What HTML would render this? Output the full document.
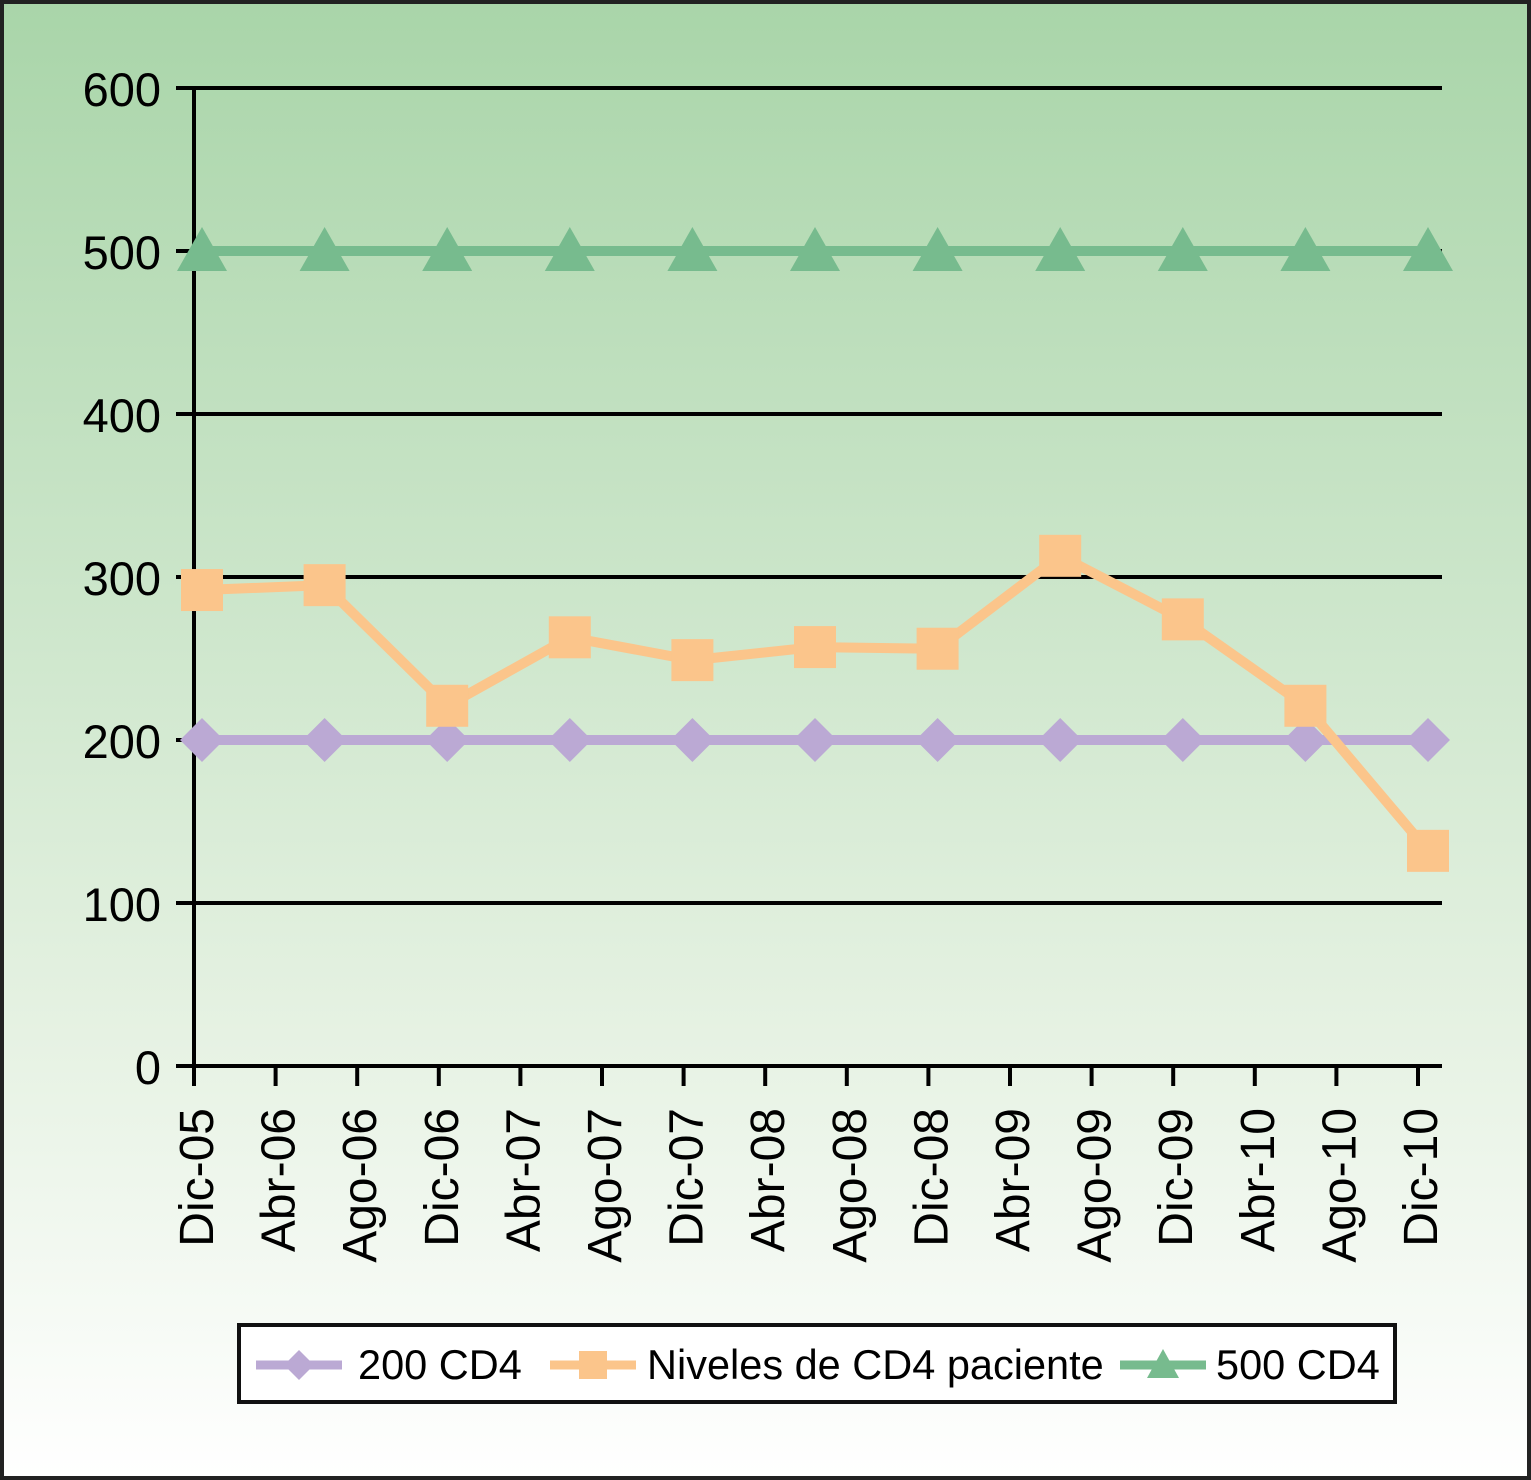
<!DOCTYPE html>
<html><head><meta charset="utf-8"><style>
html,body{margin:0;padding:0}
body{width:1531px;height:1480px;overflow:hidden}
svg{display:block;font-family:"Liberation Sans",Arial,sans-serif}
</style></head><body>
<svg id="c" width="1531" height="1480">
<defs><linearGradient id="bg" x1="0" y1="0" x2="0" y2="1">
<stop offset="0" stop-color="#a9d5a9"/><stop offset="0.7" stop-color="#e6f2e3"/><stop offset="1" stop-color="#ffffff"/></linearGradient></defs>
<rect x="2" y="2" width="1527" height="1476" fill="url(#bg)" stroke="#222" stroke-width="4"/>
<g id="grid"></g><g id="axes"></g><g id="series"></g>
<g>
<rect x="239" y="1325" width="1156" height="77" fill="#fff" stroke="#111" stroke-width="4"/>
<g>
<line x1="256" y1="1365" x2="342" y2="1365" stroke="#bba9d4" stroke-width="9"/>
<polygon points="299,1350 314,1365 299,1380 284,1365" fill="#bba9d4"/>
<text x="358" y="1379" font-size="41.5">200 CD4</text></g>
<g>
<line x1="550" y1="1365" x2="636" y2="1365" stroke="#fbc58b" stroke-width="9"/>
<rect x="579" y="1351" width="28" height="28" fill="#fbc58b"/>
<text x="647" y="1379" font-size="41.5">Niveles de CD4 paciente</text></g>
<g>
<line x1="1120" y1="1365" x2="1206" y2="1365" stroke="#77bb8e" stroke-width="9"/>
<polygon points="1163,1349 1179,1378 1147,1378" fill="#77bb8e"/>
<text x="1216" y="1379" font-size="41.5">500 CD4</text></g>
</g>
</svg>
<script>
const yTicks=[0,100,200,300,400,500,600];
const xLabels=["Dic-05","Abr-06","Ago-06","Dic-06","Abr-07","Ago-07","Dic-07","Abr-08","Ago-08","Dic-08","Abr-09","Ago-09","Dic-09","Abr-10","Ago-10","Dic-10"];
const pointMonths=[0,6,12,18,24,30,36,42,48,54,60];
const s200=[200,200,200,200,200,200,200,200,200,200,200];
const sPac=[292,295,221,263,249,257,256,313,274,221,132];
const s500=[500,500,500,500,500,500,500,500,500,500,500];
const NS="http://www.w3.org/2000/svg";
const y=v=>1066-v*(978/600);
const xt=i=>194+i*81.6;
const xm=m=>202+m*(1226/60);
function mk(t,a,p){const e=document.createElementNS(NS,t);for(const k in a)e.setAttribute(k,a[k]);p.appendChild(e);return e;}
const G=document.getElementById('grid'),A=document.getElementById('axes'),S=document.getElementById('series');
yTicks.forEach(v=>{
 if(v>0){const l=mk('line',{x1:194,x2:1442,y1:y(v),y2:y(v),stroke:'#000','stroke-width':4},G);
 
 }
 const t=mk('line',{x1:176,x2:194,y1:y(v),y2:y(v),stroke:'#000','stroke-width':4},A);
 
 
 const tx=mk('text',{x:161,y:y(v)+18,'text-anchor':'end','font-size':47},A);tx.textContent=v;
 
 
});
const ya=mk('line',{x1:194,x2:194,y1:86,y2:1068,stroke:'#000','stroke-width':4},A);


const xa=mk('line',{x1:176,x2:1442,y1:1066,y2:1066,stroke:'#000','stroke-width':4},A);


xLabels.forEach((lab,i)=>{
 const t=mk('line',{x1:xt(i),x2:xt(i),y1:1066,y2:1086,stroke:'#000','stroke-width':4},A);
 
 
 const tx=mk('text',{transform:`translate(${xt(i)+19},1108) rotate(-90)`,'text-anchor':'end','font-size':48},A);tx.textContent=lab;
 
 
});
function series(vals,color,name,marker){
 const g=mk('g',{},S);
 
 
 const pts=vals.map((v,i)=>xm(pointMonths[i])+','+y(v)).join(' ');
 mk('polyline',{points:pts,fill:'none',stroke:color,'stroke-width':10,'stroke-linejoin':'round'},g);
 vals.forEach((v,i)=>{
  const cx=xm(pointMonths[i]),cy=y(v);let m;
  if(marker==='d')m=mk('polygon',{points:`${cx},${cy-22} ${cx+22},${cy} ${cx},${cy+22} ${cx-22},${cy}`,fill:color},g);
  else if(marker==='s')m=mk('rect',{x:cx-21,y:cy-21,width:42,height:42,fill:color},g);
  else m=mk('polygon',{points:`${cx},${cy-24} ${cx+25},${cy+20} ${cx-25},${cy+20}`,fill:color},g);
  
  
 });
}
series(s200,'#bba9d4','200','d');
series(s500,'#77bb8e','500','t');
series(sPac,'#fbc58b','paciente','s');
</script>
</body></html>
